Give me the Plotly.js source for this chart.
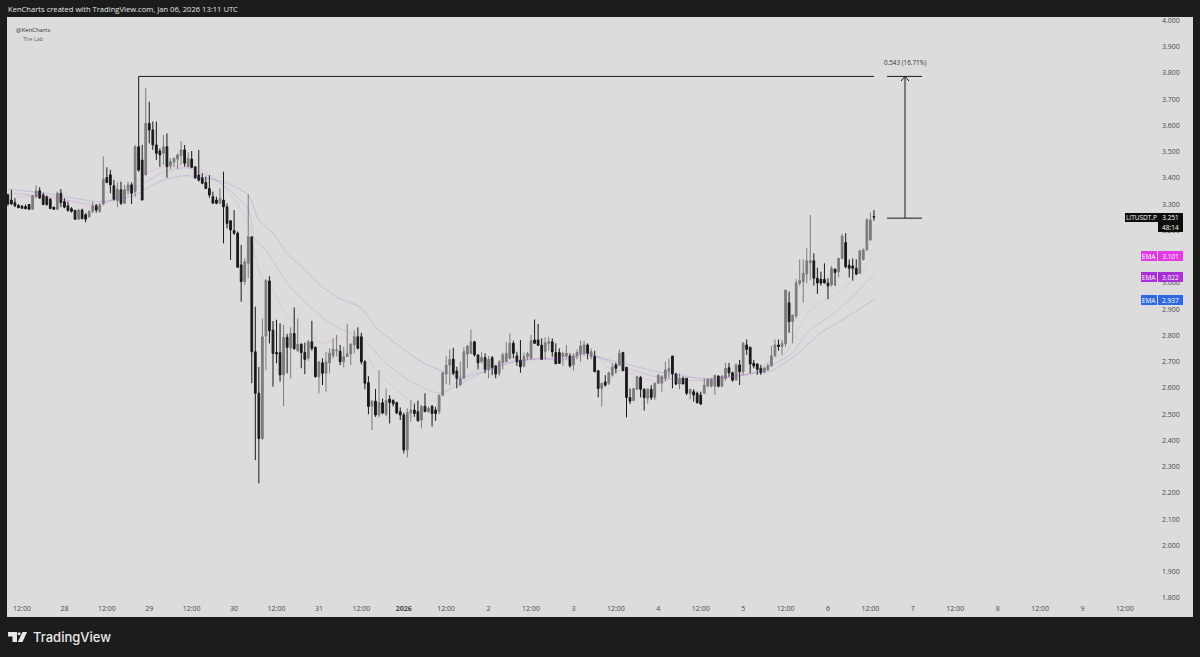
<!DOCTYPE html>
<html>
<head>
<meta charset="utf-8">
<script src="https://cdn.plot.ly/plotly-3.0.1.min.js"></script>
<style>html,body{margin:0;padding:0;background:#1c1c1c}#chart{width:1200px;height:657px}</style>
</head>
<body>
<div id="chart"></div>
<script>
// Hourly LITUSDT.P candles, first bar 2025-12-27 08:00 UTC
const opens = [
3.336,3.316,3.306,3.295,3.292,3.291,3.299,3.281,3.329,3.351,
3.335,3.329,3.319,3.289,3.281,3.342,3.310,3.294,3.283,3.277,
3.243,3.278,3.260,3.253,3.273,3.294,3.272,3.301,3.402,3.412,
3.370,3.314,3.355,3.304,3.352,3.374,3.348,3.519,3.468,3.412,
3.608,3.583,3.526,3.503,3.494,3.519,3.447,3.460,3.472,3.485,
3.507,3.443,3.472,3.443,3.411,3.401,3.383,3.360,3.329,3.316,
3.304,3.316,3.290,3.237,3.200,3.190,3.069,3.005,3.075,3.176,
2.738,2.580,2.408,2.798,3.008,2.820,2.735,2.735,2.650,2.793,
2.752,2.808,2.742,2.767,2.735,2.713,2.776,2.755,2.643,2.696,
2.656,2.696,2.723,2.742,2.740,2.700,2.720,2.730,2.764,2.795,
2.795,2.700,2.620,2.530,2.550,2.497,2.544,2.500,2.558,2.552,
2.544,2.510,2.497,2.364,2.505,2.516,2.510,2.478,2.530,2.510,
2.530,2.516,2.510,2.573,2.653,2.687,2.710,2.665,2.612,2.637,
2.729,2.732,2.776,2.726,2.700,2.716,2.671,2.715,2.684,2.656,
2.696,2.700,2.713,2.770,2.722,2.706,2.684,2.720,2.713,2.783,
2.783,2.763,2.738,2.770,2.776,2.735,2.735,2.720,2.722,2.722,
2.688,2.722,2.730,2.732,2.764,2.720,2.720,2.666,2.598,2.623,
2.618,2.649,2.688,2.688,2.735,2.679,2.564,2.552,2.595,2.640,
2.595,2.561,2.595,2.564,2.618,2.618,2.637,2.662,2.722,2.653,
2.615,2.637,2.637,2.580,2.586,2.580,2.573,2.580,2.607,2.607,
2.607,2.645,2.607,2.637,2.677,2.658,2.630,2.688,2.662,2.764,
2.755,2.694,2.691,2.675,2.662,2.669,2.685,2.722,2.764,2.758,
2.768,2.925,2.853,2.874,2.999,3.005,3.034,3.077,3.085,3.018,
3.014,3.014,3.000,2.993,3.052,3.043,3.094,3.154,3.068,3.065,
3.056,3.037,3.090,3.126,3.165,3.253];
const highs = [
3.340,3.355,3.323,3.301,3.297,3.299,3.301,3.333,3.372,3.365,
3.344,3.333,3.323,3.289,3.348,3.358,3.323,3.310,3.289,3.278,
3.281,3.283,3.266,3.278,3.310,3.301,3.304,3.482,3.441,3.431,
3.393,3.383,3.386,3.374,3.386,3.383,3.526,3.787,3.526,3.742,
3.691,3.615,3.615,3.513,3.564,3.570,3.475,3.478,3.494,3.541,
3.526,3.498,3.503,3.443,3.507,3.418,3.405,3.411,3.348,3.329,
3.361,3.424,3.303,3.240,3.278,3.196,3.145,3.094,3.339,3.176,
2.910,2.680,2.865,3.014,3.026,2.855,2.860,2.846,2.840,2.806,
2.831,2.907,2.865,2.770,2.773,2.783,2.856,2.758,2.700,2.713,
2.738,2.751,2.789,2.802,2.764,2.757,2.844,2.770,2.820,2.831,
2.810,2.706,2.645,2.554,2.596,2.668,2.560,2.598,2.573,2.557,
2.548,2.526,2.506,2.522,2.554,2.540,2.552,2.535,2.580,2.530,
2.535,2.528,2.573,2.662,2.722,2.747,2.753,2.681,2.700,2.755,
2.764,2.823,2.780,2.726,2.738,2.732,2.722,2.722,2.688,2.706,
2.735,2.776,2.808,2.780,2.738,2.783,2.735,2.738,2.802,2.861,
2.844,2.789,2.793,2.795,2.789,2.770,2.751,2.738,2.764,2.732,
2.732,2.747,2.780,2.780,2.770,2.751,2.742,2.666,2.620,2.649,
2.662,2.694,2.696,2.747,2.738,2.679,2.598,2.598,2.646,2.646,
2.599,2.599,2.611,2.620,2.653,2.649,2.700,2.713,2.722,2.658,
2.656,2.643,2.637,2.595,2.595,2.586,2.586,2.637,2.637,2.637,
2.649,2.649,2.649,2.696,2.696,2.662,2.694,2.707,2.776,2.785,
2.757,2.707,2.694,2.688,2.681,2.694,2.760,2.785,2.785,2.783,
2.973,2.967,2.878,3.014,3.090,3.090,3.132,3.259,3.113,3.058,
3.043,3.075,3.018,3.065,3.056,3.094,3.187,3.190,3.090,3.094,
3.090,3.126,3.132,3.246,3.268,3.278];
const lows = [
3.294,3.297,3.289,3.285,3.282,3.281,3.278,3.278,3.322,3.320,
3.296,3.294,3.281,3.278,3.278,3.289,3.285,3.272,3.268,3.240,
3.240,3.243,3.231,3.247,3.266,3.268,3.268,3.297,3.380,3.342,
3.314,3.289,3.297,3.301,3.336,3.301,3.329,3.424,3.316,3.410,
3.532,3.507,3.469,3.443,3.450,3.401,3.434,3.443,3.434,3.450,
3.443,3.443,3.437,3.398,3.386,3.376,3.358,3.325,3.304,3.300,
3.300,3.151,3.208,3.088,3.183,3.060,2.929,2.992,3.018,2.618,
2.325,2.237,2.402,2.668,2.770,2.605,2.694,2.624,2.531,2.656,
2.637,2.745,2.738,2.675,2.653,2.704,2.742,2.640,2.580,2.611,
2.586,2.656,2.713,2.720,2.687,2.679,2.720,2.687,2.732,2.747,
2.690,2.595,2.500,2.440,2.490,2.488,2.500,2.493,2.465,2.530,
2.500,2.478,2.351,2.336,2.472,2.490,2.472,2.446,2.510,2.506,
2.453,2.475,2.500,2.570,2.615,2.611,2.649,2.599,2.607,2.637,
2.675,2.730,2.720,2.671,2.694,2.656,2.637,2.649,2.637,2.645,
2.671,2.700,2.709,2.713,2.684,2.658,2.678,2.707,2.709,2.770,
2.760,2.709,2.709,2.742,2.719,2.692,2.692,2.684,2.713,2.678,
2.666,2.709,2.700,2.725,2.709,2.709,2.662,2.564,2.529,2.605,
2.611,2.643,2.656,2.684,2.666,2.488,2.539,2.550,2.592,2.564,
2.514,2.541,2.554,2.554,2.615,2.586,2.624,2.637,2.599,2.611,
2.595,2.615,2.573,2.557,2.548,2.541,2.535,2.577,2.605,2.602,
2.573,2.602,2.602,2.627,2.643,2.624,2.630,2.611,2.650,2.726,
2.656,2.675,2.650,2.650,2.656,2.666,2.681,2.720,2.742,2.726,
2.757,2.810,2.770,2.865,2.990,2.925,2.999,3.011,2.990,2.958,
2.990,2.999,2.938,2.986,2.989,3.021,3.090,3.056,3.021,3.009,
3.030,3.034,3.085,3.123,3.160,3.237];
const closes = [
3.301,3.301,3.294,3.287,3.285,3.283,3.281,3.333,3.351,3.324,
3.299,3.299,3.284,3.281,3.342,3.306,3.289,3.276,3.273,3.243,
3.278,3.245,3.243,3.272,3.294,3.278,3.297,3.395,3.383,3.374,
3.319,3.357,3.304,3.355,3.374,3.342,3.519,3.430,3.316,3.608,
3.583,3.526,3.494,3.488,3.519,3.443,3.462,3.475,3.488,3.507,
3.456,3.475,3.440,3.400,3.392,3.380,3.360,3.335,3.304,3.304,
3.322,3.290,3.227,3.202,3.190,3.060,3.005,3.081,3.176,2.738,
2.580,2.408,2.795,3.010,2.818,2.732,2.730,2.650,2.793,2.755,
2.808,2.750,2.767,2.735,2.709,2.776,2.751,2.643,2.700,2.656,
2.700,2.732,2.747,2.745,2.700,2.720,2.730,2.767,2.796,2.751,
2.700,2.618,2.530,2.550,2.497,2.544,2.505,2.552,2.545,2.540,
2.505,2.497,2.364,2.506,2.516,2.503,2.475,2.530,2.510,2.522,
2.503,2.503,2.573,2.658,2.687,2.709,2.656,2.637,2.637,2.738,
2.760,2.776,2.726,2.696,2.716,2.671,2.709,2.678,2.653,2.700,
2.726,2.732,2.770,2.732,2.700,2.681,2.720,2.730,2.780,2.770,
2.763,2.709,2.772,2.776,2.738,2.692,2.694,2.732,2.732,2.684,
2.722,2.735,2.760,2.764,2.732,2.738,2.662,2.598,2.618,2.611,
2.658,2.679,2.675,2.732,2.666,2.564,2.550,2.598,2.643,2.595,
2.564,2.595,2.564,2.618,2.649,2.643,2.669,2.675,2.653,2.615,
2.637,2.615,2.580,2.595,2.573,2.544,2.539,2.611,2.633,2.633,
2.649,2.607,2.645,2.675,2.658,2.630,2.688,2.662,2.770,2.747,
2.691,2.684,2.671,2.658,2.675,2.685,2.722,2.764,2.758,2.770,
2.973,2.853,2.878,3.000,3.009,3.037,3.085,3.085,3.018,3.000,
3.000,3.000,2.989,3.056,3.040,3.094,3.179,3.062,3.056,3.056,
3.034,3.123,3.126,3.242,3.240,3.251];

// EMA readings: hour offset from 2025-12-27 12:00 UTC and value
const emaFastHours = [-4,4,12,20,23,32,36,40,46,50,57,64,66,68,71,74,80,85,91,96,100,107,113,116,121,127,132,140,149,156,162,166,172,180,187,194,198,207,212,216,219,223,229,235,240,241];
const emaFastValues = [3.325,3.331,3.316,3.290,3.297,3.385,3.423,3.442,3.442,3.438,3.370,3.229,3.099,3.015,2.973,2.890,2.821,2.771,2.794,2.756,2.669,2.581,2.528,2.516,2.600,2.657,2.680,2.707,2.711,2.726,2.726,2.676,2.657,2.623,2.650,2.623,2.638,2.657,2.707,2.733,2.810,2.897,2.947,3.011,3.088,3.101];
const emaMidHours = [-4,8,22,32,36,40,46,49,57,64,66,69,75,81,87,92,96,102,108,113,118,125,132,139,147,155,161,167,177,185,193,198,207,212,218,222,229,235,240,241];
const emaMidValues = [3.343,3.328,3.300,3.362,3.392,3.423,3.438,3.430,3.373,3.278,3.164,3.126,3.000,2.916,2.848,2.813,2.794,2.707,2.642,2.604,2.581,2.623,2.669,2.700,2.714,2.711,2.726,2.695,2.650,2.630,2.630,2.638,2.657,2.688,2.733,2.810,2.878,2.947,3.019,3.022];
const emaSlowHours = [-4,8,22,32,36,40,46,49,57,64,67,71,75,80,85,89,96,100,107,113,118,125,130,138,146,153,160,163,172,180,191,198,207,212,220,226,233,240,241];
const emaSlowValues = [3.358,3.339,3.310,3.335,3.367,3.392,3.409,3.405,3.385,3.335,3.240,3.190,3.113,3.050,2.985,2.947,2.905,2.832,2.756,2.700,2.669,2.642,2.661,2.695,2.710,2.707,2.733,2.718,2.688,2.661,2.638,2.638,2.657,2.665,2.737,2.810,2.867,2.928,2.937];

const priceTicks = [1.8,1.9,2.0,2.1,2.2,2.3,2.4,2.5,2.6,2.7,2.8,2.9,3.0,3.1,3.2,3.3,3.4,3.5,3.6,3.7,3.8,3.9,4.0];
const timeTickHours = [0,12,24,36,48,60,72,84,96,108,120,132,144,156,168,180,192,204,216,228,240,252,264,276,288,300,312];
const timeTickLabels = ['12:00','28','12:00','29','12:00','30','12:00','31','12:00','<b>2026</b>','12:00','2','12:00','3','12:00','4','12:00','5','12:00','6','12:00','7','12:00','8','12:00','9','12:00'];

const measureTop = 3.787, measureBottom = 3.247, measureStartHour = 33, measureEndHour = 241;
const headerText = 'KenCharts created with TradingView.com, Jan 06, 2026 13:11 UTC';
const measureText = '0.543 (16.71%)';
const priceLabels = [
  {name:'EMA', value:3.101, color:'#e23be6'},
  {name:'EMA', value:3.022, color:'#a92fd8'},
  {name:'EMA', value:2.937, color:'#2f68e4'}
];
const lastPrice = 3.251, countdown = '48:14', symbol = 'LITUSDT.P';

const base = Date.UTC(2025,11,27,12);
const toDate = h => new Date(base + h*3600000).toISOString().slice(0,19).replace('T',' ');
const candleDates = opens.map((_,i) => toDate(i-4));

// Chart geometry in page pixels
const L=7, R=1160, T=17, B=600, W=1200, H=657;
const px = x => (x-L)/(R-L);
const py = y => (B-y)/(B-T);
const hourFromPx = x => (x-22)/3.535;
const priceFromPy = y => 4-(y-20.5)/262.5;
const frame = '#1c1c1c';
const rect = (x0,y0,x1,y1,fill) => ({type:'rect',xref:'paper',yref:'paper',x0:px(x0),x1:px(x1),y0:py(y0),y1:py(y1),fillcolor:fill,line:{width:0},layer:'above'});
const seg = (h0,p0,h1,p1) => ({type:'line',xref:'x',yref:'y',x0:toDate(h0),x1:toDate(h1),y0:p0,y1:p1,line:{color:'#1a1a1a',width:1},layer:'above'});

const note = (x,y,text,size,color,extra) => Object.assign({xref:'paper',yref:'paper',x:px(x),y:py(y),text,showarrow:false,xanchor:'left',yanchor:'middle',font:{size,color,family:'Open Sans, sans-serif'}},extra||{});
const tag = (x,w,value,h,text,bg,color) => ({xref:'paper',yref:'y',x:px(x),y:value,xanchor:'left',yanchor:'middle',width:w,height:h,bgcolor:bg,borderpad:0,borderwidth:0,showarrow:false,align:'center',valign:'middle',text,font:{size:6.5,color:color||'#fff',family:'Open Sans, sans-serif'}});

const mH0 = hourFromPx(887), mH1 = hourFromPx(922), mHc = hourFromPx(905);
const shapes = [
  rect(0,0,W,T,frame), rect(0,617,W,H,frame), rect(0,0,L,H,frame), rect(1193,0,W,H,frame),
  seg(measureStartHour,measureTop,measureEndHour,measureTop),
  seg(mH0,measureTop,mH1,measureTop),
  seg(mH0,measureBottom,mH1,measureBottom),
  seg(mHc,measureTop,mHc,measureBottom),
  seg(mHc,measureTop,hourFromPx(901),priceFromPy(81)),
  seg(mHc,measureTop,hourFromPx(909),priceFromPy(81)),
  // TradingView logo mark
  {type:'path',xref:'paper',yref:'paper',layer:'above',fillcolor:'#e8e8e8',line:{width:0},
   path:`M${px(8)},${py(632)} L${px(17)},${py(632)} L${px(17)},${py(642)} L${px(12.5)},${py(642)} L${px(12.5)},${py(636.5)} L${px(8)},${py(636.5)} Z`},
  {type:'circle',xref:'paper',yref:'paper',layer:'above',fillcolor:'#e8e8e8',line:{width:0},x0:px(17.6),x1:px(20.6),y0:py(632.2),y1:py(635.2)},
  {type:'path',xref:'paper',yref:'paper',layer:'above',fillcolor:'#e8e8e8',line:{width:0},
   path:`M${px(22.5)},${py(632)} L${px(27)},${py(632)} L${px(22.5)},${py(642)} L${px(17.8)},${py(642)} Z`}
];

const annotations = [
  note(6,9,headerText,7.6,'#e6e6e6'),
  note(14,30,'@KenCharts',6,'#333'),
  note(21,39,'The Lab',5.5,'#666'),
  note(31,637,'TradingView',13,'#e8e8e8',{font:{size:13,color:'#e8e8e8',family:'Inter, sans-serif',weight:500}}),
  {xref:'x',yref:'paper',x:toDate(mHc),y:py(62),text:measureText,showarrow:false,xanchor:'center',yanchor:'middle',font:{size:6.3,color:'#333',family:'Open Sans, sans-serif'}},
  tag(1125,33,lastPrice,9,symbol,'#0c0c0c'),
  tag(1158,25,lastPrice,9,lastPrice.toFixed(3),'#0c0c0c'),
  tag(1158,25,priceFromPy(227),10,countdown,'#0c0c0c')
];
priceLabels.forEach(l => {
  annotations.push(tag(1141,16,l.value,10,l.name,l.color));
  annotations.push(tag(1158,25,l.value,10,l.value.toFixed(3),l.color));
});

const emaLine = (hours,values,color,name) => ({type:'scatter',mode:'lines',name,x:hours.map(toDate),y:values,line:{color,width:1,shape:'spline',smoothing:0.7},hoverinfo:'skip'});

const data = [
  emaLine(emaSlowHours,emaSlowValues,'rgba(70,90,200,0.20)','EMA slow'),
  emaLine(emaMidHours,emaMidValues,'rgba(150,60,190,0.17)','EMA mid'),
  emaLine(emaFastHours,emaFastValues,'rgba(215,70,215,0.15)','EMA fast'),
  {type:'candlestick',x:candleDates,open:opens,high:highs,low:lows,close:closes,
   width:1100000,whiskerwidth:0,
   increasing:{line:{color:'#7c7c7c',width:1},fillcolor:'#7c7c7c'},
   decreasing:{line:{color:'#1a1a1a',width:1},fillcolor:'#1a1a1a'},
   name:'LITUSDT.P',hoverinfo:'skip'}
];

const layout = {
  width:W,height:H,
  margin:{l:L,r:W-R,t:T,b:H-B,pad:0},
  paper_bgcolor:'#dcdcdc',plot_bgcolor:'#dcdcdc',
  showlegend:false,
  font:{family:'Open Sans, sans-serif'},
  xaxis:{type:'date',range:[toDate(hourFromPx(L)),toDate(hourFromPx(R))],
    tickmode:'array',tickvals:timeTickHours.map(toDate),ticktext:timeTickLabels,
    ticks:'',showgrid:false,zeroline:false,showline:false,ticklabelstandoff:3,
    tickfont:{size:7,color:'#484848'},rangeslider:{visible:false},fixedrange:true},
  yaxis:{side:'right',range:[priceFromPy(B),priceFromPy(T)],
    tickmode:'array',tickvals:priceTicks,ticktext:priceTicks.map(v=>v.toFixed(3)),
    ticks:'',showgrid:false,zeroline:false,showline:false,ticklabelstandoff:1,
    tickfont:{size:7,color:'#484848'},fixedrange:true},
  shapes,annotations
};
Plotly.newPlot('chart',data,layout,{staticPlot:true,displayModeBar:false});
</script>
</body>
</html>
